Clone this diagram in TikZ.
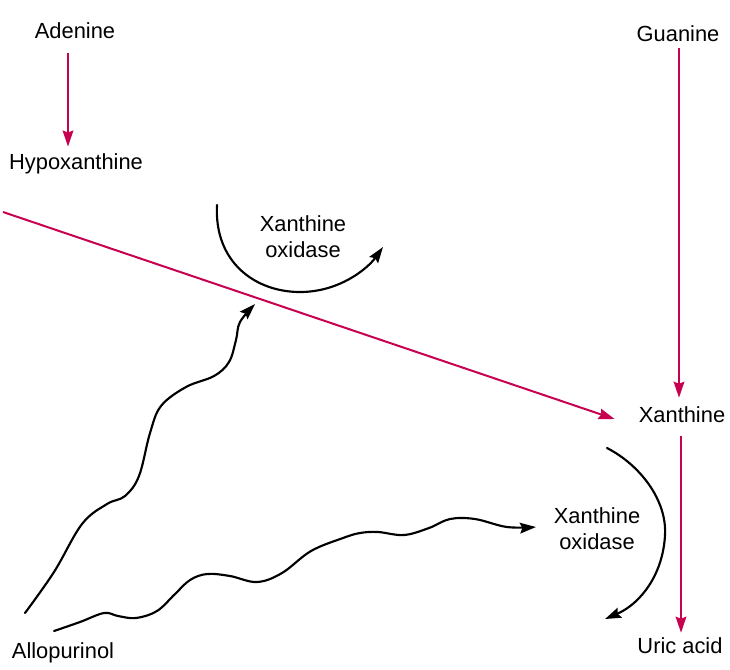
\documentclass[tikz,border=0pt]{standalone}
\usepackage{fontspec}
\setmainfont{Liberation Sans}
\usetikzlibrary{arrows.meta}
\definecolor{pathred}{RGB}{200,0,80}
\begin{document}
\begin{tikzpicture}[x=0.75pt,y=-0.75pt,
  lbl/.style={font=\fontsize{16.4}{19.5}\selectfont, inner sep=0pt, align=center},
  redarr/.style={draw=pathred, line width=1.5pt, -{Stealth[length=12pt,width=8pt,inset=1.5pt]}},
  blkarr/.style={draw=black, line width=1.6pt, line cap=round, -{Stealth[length=12pt,width=8pt,inset=1.8pt]}}]
\useasboundingbox (0,0) rectangle (730,669);

% labels
\node[lbl] (ad) at (75,31) {Adenine};
\node[lbl] (hy) at (76,164) {Hypoxanthine};
\node[lbl] (gu) at (678,34) {Guanine};
\node[lbl] (xa) at (682,415) {Xanthine};
\node[lbl] (ua) at (680,646) {Uric acid};
\node[lbl] (al) at (63,653) {Allopurinol};
\node[lbl] (xo1) at (303,237) {Xanthine\\oxidase};
\node[lbl] (xo2) at (597,529) {Xanthine\\oxidase};

% red pathway arrows
\draw[redarr] ([xshift=-5.25pt,yshift=-10.5pt]ad.south) -- ([xshift=-6pt,yshift=5.25pt]hy.north);
\draw[redarr] ([xshift=0.75pt,yshift=-4.5pt]gu.south) -- ([xshift=-2.25pt,yshift=6.75pt]xa.north);
\draw[redarr] ([xshift=-0.75pt,yshift=-9.75pt]xa.south) -- ([xshift=0.75pt,yshift=3.75pt]ua.north);
\coordinate (hxs) at (3,212);
\draw[redarr] (hxs) -- ([xshift=-18pt,yshift=-3pt]xa.west);

% xanthine oxidase arcs
\coordinate (a1s) at (217,205);
\coordinate (a1e) at (383,247);
\draw[blkarr] (a1s) .. controls (214,262) and (255,292) .. (300,292)
  .. controls (340,292) and (368,268) .. (a1e);
\coordinate (a2s) at (607,448);
\coordinate (a2e) at (605,619);
\draw[blkarr] (a2s) .. controls (640,465) and (667,500) .. (665,535)
  .. controls (663,575) and (640,604) .. (a2e);

% allopurinol inhibition lines
\coordinate (w1s) at (25,613);
\coordinate (w1e) at (255,304);
\draw[blkarr] plot[smooth, tension=0.6] coordinates {(w1s) (54,572) (82,524) (107,504) (125,496) (139,476) (150,433) (161,406) (186,387) (214,376) (229,362) (236,340) (240,322) (w1e)};
\coordinate (w2s) at (54,631);
\coordinate (w2e) at (536,527);
\draw[blkarr] plot[smooth, tension=0.6] coordinates {(w2s) (80,622) (104,613) (118,616) (136,618) (157,611) (175,594) (190,580) (207,574) (230,576) (257,582) (282,573) (311,551) (343,538) (360,533) (378,532) (404,535) (429,528) (450,519) (475,519) (507,527) (w2e)};
\end{tikzpicture}
\end{document}
